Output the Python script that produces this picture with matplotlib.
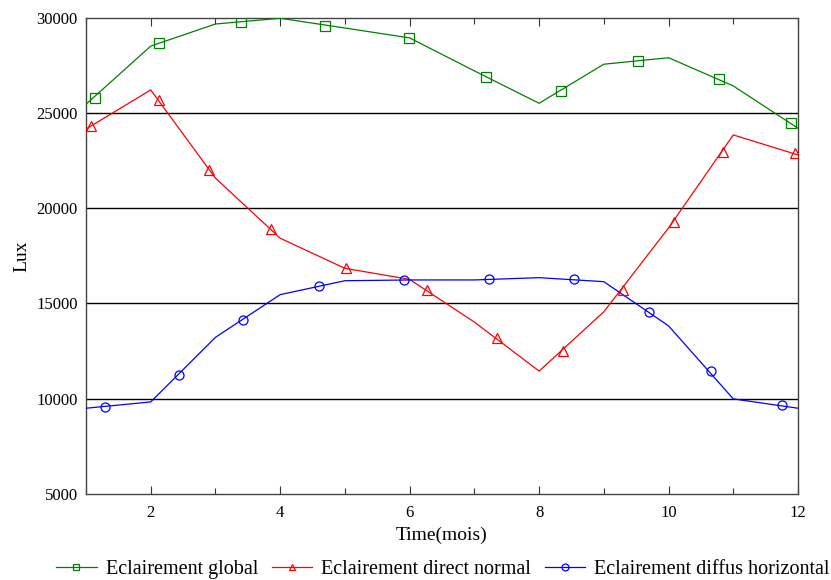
import matplotlib.pyplot as plt
import numpy as np

plt.rcParams['font.family'] = ['Liberation Serif', 'DejaVu Serif']

months = [1, 2, 3, 4, 5, 6, 7, 8, 9, 10, 11, 12]
global_lux = [25450, 28500, 29660, 29960, 29450, 28930, 27200, 25500, 27550, 27890, 26410, 24190]
direct_lux = [24150, 26200, 21570, 18420, 16840, 16260, 14020, 11450, 14560, 18960, 23840, 22790]
diffus_lux = [9500, 9830, 13220, 15460, 16190, 16230, 16230, 16350, 16140, 13820, 9990, 9500]

# marker positions along each curve (markers are not on the month vertices)
global_mk_x = [1.134, 2.132, 3.399, 4.697, 5.995, 7.175, 8.338, 9.532, 10.775, 11.892]
global_mk_y = [25790, 28650, 29770, 29570, 28910, 26900, 26130, 27720, 26780, 24480]
direct_mk_x = [1.077, 2.132, 2.905, 3.853, 5.017, 6.263, 7.354, 8.374, 9.291, 10.089, 10.836, 11.958]
direct_mk_y = [24310, 25650, 22000, 18910, 16870, 15700, 13170, 12520, 15700, 19290, 22930, 22910]
diffus_mk_x = [1.294, 2.432, 3.421, 4.604, 5.913, 7.226, 8.539, 9.702, 10.651, 11.757]
diffus_mk_y = [9580, 11240, 14130, 15900, 16230, 16260, 16260, 14560, 11470, 9650]

series = [
    ('Eclairement global', global_lux, global_mk_x, global_mk_y, 'green', 's'),
    ('Eclairement direct normal', direct_lux, direct_mk_x, direct_mk_y, 'red', '^'),
    ('Eclairement diffus horizontal', diffus_lux, diffus_mk_x, diffus_mk_y, 'blue', 'o'),
]

fig = plt.figure(figsize=(8.31, 5.80), dpi=100)
ax = fig.add_axes([0.1035, 0.1483, 0.8568, 0.8215])

for y in [10000, 15000, 20000, 25000]:
    ax.axhline(y, color='black', linewidth=1.0, zorder=1)

handles = []
for label, vals, mx, my, color, marker in series:
    ax.plot(months, vals, color=color, linewidth=0.9, zorder=3)
    ax.plot(mx, my, linestyle='none', marker=marker, markersize=6.5,
            markerfacecolor='none', markeredgecolor=color, markeredgewidth=0.9, zorder=4)
    h, = ax.plot([], [], color=color, linewidth=0.9, marker=marker, markersize=5,
                 markerfacecolor='none', markeredgecolor=color, markeredgewidth=0.9)
    handles.append((h, label))

ax.set_xlim(1, 12)
ax.set_ylim(5000, 30000)
ax.set_xticks([2, 4, 6, 8, 10, 12])
ax.set_xticks([1, 3, 5, 7, 9, 11], minor=True)
ax.set_yticks([5000, 10000, 15000, 20000, 25000, 30000])
ax.tick_params(axis='x', which='major', direction='in', top=True, length=6, width=0.8,
               labelsize=12, pad=8, color='#333333')
ax.tick_params(axis='x', which='minor', direction='in', top=True, length=4, width=0.8,
               color='#333333')
ax.tick_params(axis='y', direction='in', length=0, labelsize=12, pad=6)
for s in ax.spines.values():
    s.set_color('#444444')
    s.set_linewidth(1.0)

ax.set_xlabel('Time(mois)', fontsize=14, labelpad=4)
ax.set_ylabel('Lux', fontsize=14, labelpad=4)

fig.legend([h for h, _ in handles], [l for _, l in handles], loc='lower center',
           bbox_to_anchor=(0.533, -0.029), ncol=3, frameon=False, fontsize=14.5,
           handlelength=2.0, handletextpad=0.46, columnspacing=0.67)

fig.savefig('out.png', dpi=100)
